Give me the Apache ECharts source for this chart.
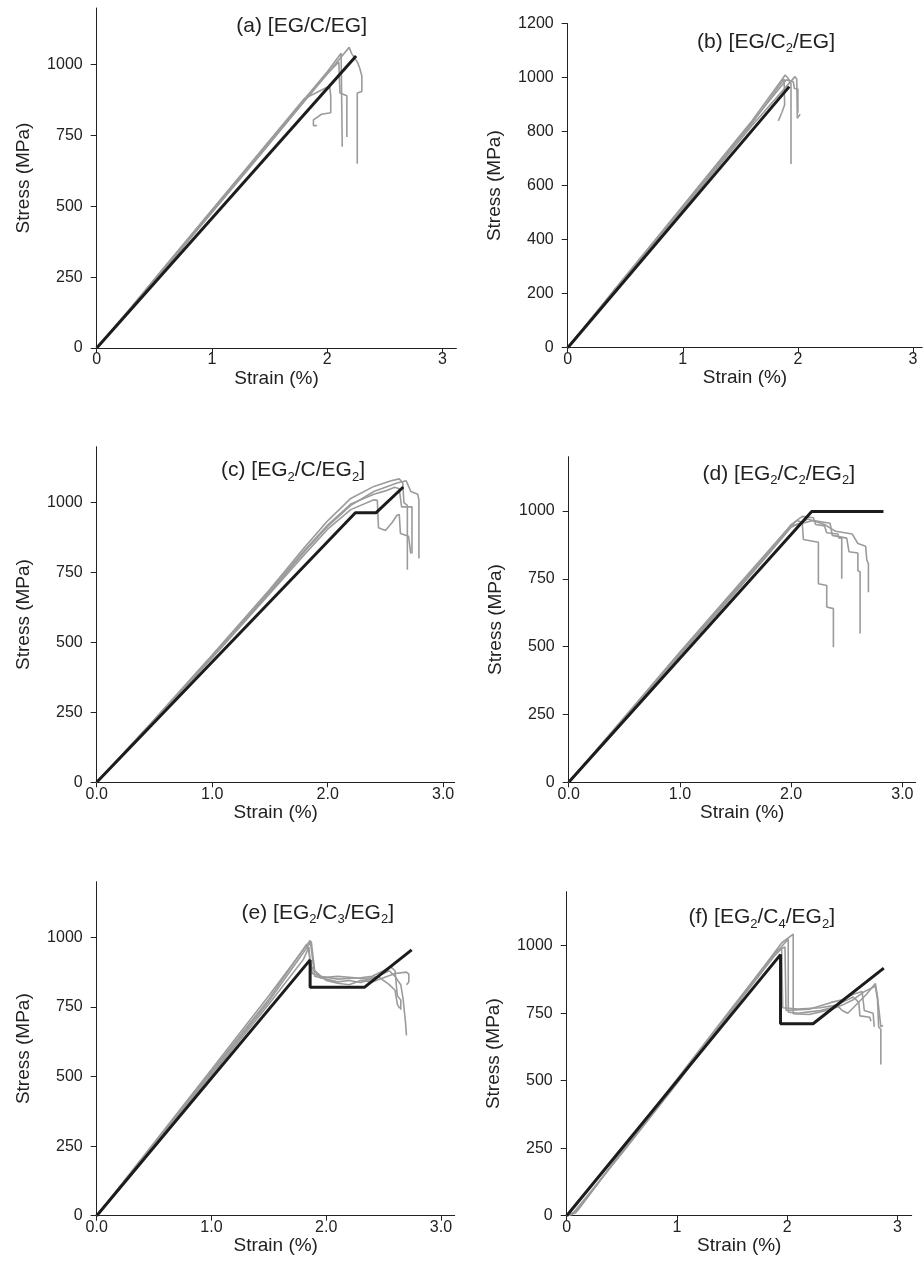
<!DOCTYPE html>
<html>
<head>
<meta charset="utf-8">
<script src="https://cdn.jsdelivr.net/npm/echarts@6/dist/echarts.min.js"></script>
<style>
html,body{margin:0;padding:0;background:#fff;}
#c{width:923px;height:1278px;}
</style>
</head>
<body>
<div id="c"></div>
<script>
// ---------- Data (strain %, stress MPa) ----------
// Panel (a) [EG/C/EG]
const aBlack = [[0,0],[2.25,1031]];
const aGrey1 = [[0,0],[0.3,140],[0.6,285],[1.0,478],[1.4,672],[1.8,870],[2.0,968],[2.19,1061],[2.21,1040],[2.26,1010],[2.28,990],[2.30,960],[2.30,905],[2.26,900],[2.26,650]];
const aGrey2 = [[0,0],[0.3,142],[0.6,290],[1.0,485],[1.4,680],[1.8,878],[2.0,975],[2.12,1040],[2.13,1035],[2.13,710]];
const aGrey3 = [[0,0],[0.3,138],[0.6,283],[1.0,480],[1.4,676],[1.8,872],[2.0,968],[2.10,1010],[2.11,900],[2.17,890],[2.17,745]];
const aGrey4 = [[0,0],[0.3,145],[0.6,292],[1.0,488],[1.4,684],[1.8,880],[2.02,925],[2.03,890],[2.03,830],[1.95,825],[1.88,805],[1.88,785],[1.91,785]];

// Panel (b) [EG/C2/EG]
const bBlack = [[0,0],[1.925,967]];
const bGrey1 = [[0,0],[0.4,212],[0.8,420],[1.2,630],[1.6,840],[1.89,1010],[1.92,995],[1.94,979],[1.94,680]];
const bGrey2 = [[0,0],[0.4,208],[0.8,415],[1.2,622],[1.6,830],[1.88,995],[1.885,900],[1.86,870],[1.83,840]];
const bGrey3 = [[0,0],[0.4,205],[0.8,410],[1.2,615],[1.6,822],[1.975,1004],[1.99,995],[1.995,850],[2.02,865]];
const bGrey4 = [[0,0],[0.4,210],[0.8,418],[1.2,626],[1.6,835],[1.9,992],[1.96,985],[1.97,960],[2.0,958],[2.0,870]];

// Panel (c) [EG2/C/EG2]
const cBlack = [[0,0],[2.24,964],[2.42,964],[2.655,1056]];
const cGrey1 = [[0,0],[0.5,225],[1.0,455],[1.5,690],[1.8,840],[2.0,935],[2.2,1015],[2.4,1058],[2.55,1078],[2.62,1085],[2.65,1070],[2.66,1000],[2.69,990],[2.69,760]];
const cGrey2 = [[0,0],[0.5,222],[1.0,450],[1.5,680],[1.8,825],[2.0,915],[2.2,990],[2.4,1040],[2.6,1070],[2.68,1078],[2.72,1040],[2.78,1030],[2.79,1010],[2.79,800]];
const cGrey3 = [[0,0],[0.5,220],[1.0,445],[1.5,675],[1.8,815],[2.0,905],[2.2,975],[2.4,1010],[2.43,1008],[2.44,910],[2.5,900],[2.56,930],[2.6,955],[2.62,958],[2.63,890],[2.7,880],[2.72,818]];
const cGrey4 = [[0,0],[0.5,223],[1.0,452],[1.5,685],[1.8,830],[2.0,920],[2.2,995],[2.4,1030],[2.5,1042],[2.58,1055],[2.62,1050],[2.64,985],[2.73,985],[2.73,818]];

// Panel (d) [EG2/C2/EG2]
const dBlack = [[0,0],[2.185,998],[2.83,998]];
const dGrey1 = [[0,0],[0.5,240],[1.0,480],[1.5,715],[1.8,855],[1.95,925],[2.05,965],[2.1,958],[2.11,895],[2.245,885],[2.245,732],[2.32,725],[2.32,646],[2.38,640],[2.38,498]];
const dGrey2 = [[0,0],[0.5,236],[1.0,472],[1.5,705],[1.8,845],[2.0,950],[2.1,980],[2.2,975],[2.22,950],[2.3,945],[2.32,920],[2.42,915],[2.43,900],[2.455,900],[2.455,750]];
const dGrey3 = [[0,0],[0.5,238],[1.0,476],[1.5,710],[1.8,850],[2.0,945],[2.2,965],[2.35,955],[2.37,910],[2.5,900],[2.52,850],[2.6,845],[2.6,780],[2.62,775],[2.62,548]];
const dGrey4 = [[0,0],[0.5,234],[1.0,468],[1.5,700],[1.8,842],[2.0,940],[2.15,970],[2.3,950],[2.4,925],[2.55,915],[2.6,880],[2.67,870],[2.68,820],[2.695,805],[2.695,700]];

// Panel (e) [EG2/C3/EG2]
const eBlack = [[0,0],[1.86,919],[1.86,821],[2.335,821],[2.745,955]];
const eGrey1 = [[0,0],[0.5,262],[1.0,525],[1.5,790],[1.86,989],[1.87,960],[1.9,860],[2.0,850],[2.1,840],[2.2,845],[2.3,838],[2.4,850],[2.5,870],[2.55,880],[2.6,860],[2.65,830],[2.67,780],[2.69,700],[2.7,648]];
const eGrey2 = [[0,0],[0.5,258],[1.0,518],[1.5,778],[1.83,975],[1.85,945],[1.88,870],[1.95,860],[2.1,850],[2.2,852],[2.3,855],[2.4,860],[2.5,880],[2.56,895],[2.6,880],[2.62,790],[2.65,775],[2.65,740]];
const eGrey3 = [[0,0],[0.5,255],[1.0,512],[1.5,770],[1.87,985],[1.88,950],[1.9,880],[2.0,845],[2.1,835],[2.2,830],[2.3,845],[2.4,840],[2.5,855],[2.6,870],[2.7,875],[2.72,868],[2.72,840],[2.7,830]];
const eGrey4 = [[0,0],[0.5,250],[1.0,505],[1.5,760],[1.8,920],[1.85,965],[1.86,900],[1.95,855],[2.1,860],[2.25,855],[2.35,850],[2.45,860],[2.55,830],[2.6,810],[2.62,760],[2.64,745]];

// Panel (f) [EG2/C4/EG2]
const fBlack = [[0,0],[1.94,967],[1.94,711],[2.235,711],[2.877,917]];
const fGrey1 = [[0,0],[0.05,5],[0.5,230],[1.0,490],[1.5,760],[1.9,975],[2.01,1024],[2.01,754],[2.1,750],[2.2,755],[2.3,760],[2.4,770],[2.5,790],[2.6,810],[2.65,790],[2.66,740],[2.75,735],[2.76,720]];
const fGrey2 = [[0,0],[0.1,20],[0.5,235],[1.0,495],[1.5,765],[1.95,1010],[2.055,1043],[2.055,748],[2.2,745],[2.3,755],[2.4,765],[2.5,780],[2.6,800],[2.7,830],[2.75,840],[2.8,850],[2.82,800],[2.83,700],[2.85,690],[2.85,560]];
const fGrey3 = [[0,0],[0.5,245],[1.0,505],[1.5,770],[1.9,980],[1.98,995],[1.99,760],[2.2,765],[2.4,790],[2.5,800],[2.6,820],[2.68,830],[2.7,760],[2.78,750],[2.79,700]];
const fGrey4 = [[0,0],[0.08,10],[0.5,240],[1.0,500],[1.5,760],[1.88,960],[1.95,990],[1.96,770],[2.1,765],[2.3,770],[2.45,780],[2.5,760],[2.55,750],[2.6,770],[2.72,820],[2.8,860],[2.82,810],[2.85,700],[2.87,705]];

// Tick values
const xTicks = [0,1,2,3];
const yTicksA = [0,250,500,750,1000];
const yTicksB = [0,200,400,600,800,1000,1200];

// Titles (odd entries are subscripts)
const titles = [
  ['(a) [EG/C/EG]'],
  ['(b) [EG/C', '2', '/EG]'],
  ['(c) [EG', '2', '/C/EG', '2', ']'],
  ['(d) [EG', '2', '/C', '2', '/EG', '2', ']'],
  ['(e) [EG', '2', '/C', '3', '/EG', '2', ']'],
  ['(f) [EG', '2', '/C', '4', '/EG', '2', ']']
];

// ---------- Layout ----------
const panels = [
  {left:96.7, top:8,     w:359.7, h:340,   xmax:3.12, dec:0, yt:yTicksA, black:aBlack, greys:[aGrey1,aGrey2,aGrey3,aGrey4], tr:367, tc:26},
  {left:567.7, top:23.7, w:354.5, h:324,   xmax:3.08, dec:0, yt:yTicksB, black:bBlack, greys:[bGrey1,bGrey2,bGrey3,bGrey4], tr:835, tc:42},
  {left:96.7, top:446.7, w:358,   h:335.6, xmax:3.1,  dec:1, yt:yTicksA, black:cBlack, greys:[cGrey1,cGrey2,cGrey3,cGrey4], tr:365, tc:470.5},
  {left:568.7, top:456.7,w:347,   h:325.6, xmax:3.12, dec:1, yt:yTicksA, black:dBlack, greys:[dGrey1,dGrey2,dGrey3,dGrey4], tr:855, tc:474},
  {left:96.7, top:881.7, w:358,   h:334,   xmax:3.12, dec:1, yt:yTicksA, black:eBlack, greys:[eGrey1,eGrey2,eGrey3,eGrey4], tr:394, tc:913},
  {left:566.7, top:891.7,w:345,   h:324,   xmax:3.13, dec:0, yt:yTicksA, black:fBlack, greys:[fGrey1,fGrey2,fGrey3,fGrey4], tr:835, tc:917.5}
];

const FONT = 'Liberation Sans, Arial, Helvetica, sans-serif';
const GREY = '#9b9b9b';
const BLACK = '#1c1c1c';
const TXT = '#222';

function richTitle(parts) {
  return parts.map((p, i) => (i % 2 === 1) ? '{s|' + p + '}' : '{m|' + p + '}').join('');
}

const grid = [], xAxis = [], yAxis = [], series = [], title = [];
panels.forEach((p, i) => {
  grid.push({left: p.left, top: p.top, width: p.w, height: p.h, containLabel: false});
  xAxis.push({
    type: 'value', gridIndex: i, min: 0, max: p.xmax,
    name: 'Strain (%)', nameLocation: 'middle', nameGap: 13,
    nameTextStyle: {fontFamily: FONT, fontSize: 19, color: TXT, verticalAlign: 'top'},
    axisLine: {show: true, lineStyle: {color: TXT, width: 1}},
    axisTick: {show: true, length: 5, inside: false, customValues: xTicks, lineStyle: {color: TXT}},
    axisLabel: {customValues: xTicks, margin: 4, fontFamily: FONT, fontSize: 16, color: TXT,
      formatter: v => p.dec ? Number(v).toFixed(1) : String(Math.round(v))},
    splitLine: {show: false}
  });
  yAxis.push({
    type: 'value', gridIndex: i, min: 0, max: 1200,
    name: 'Stress (MPa)', nameLocation: 'middle', nameGap: 63,
    nameTextStyle: {fontFamily: FONT, fontSize: 19, color: TXT},
    axisLine: {show: true, lineStyle: {color: TXT, width: 1}},
    axisTick: {show: true, length: 6, inside: false, customValues: p.yt, lineStyle: {color: TXT}},
    axisLabel: {customValues: p.yt, margin: 14, fontFamily: FONT, fontSize: 16, color: TXT,
      formatter: v => String(Math.round(v))},
    splitLine: {show: false}
  });
  p.greys.forEach(g => series.push({
    type: 'line', xAxisIndex: i, yAxisIndex: i, data: g, showSymbol: false, symbol: 'none',
    lineStyle: {color: GREY, width: 1.6}, animation: false, silent: true, z: 2
  }));
  series.push({
    type: 'line', xAxisIndex: i, yAxisIndex: i, data: p.black, showSymbol: false, symbol: 'none',
    lineStyle: {color: BLACK, width: 3}, animation: false, silent: true, z: 3
  });
  title.push({
    text: richTitle(titles[i]), left: p.tr, top: p.tc - 13, textAlign: 'right', padding: 0,
    textStyle: {
      fontWeight: 'normal',
      rich: {
        m: {fontFamily: FONT, fontSize: 21, fontWeight: 'normal', color: TXT, lineHeight: 26},
        s: {fontFamily: FONT, fontSize: 13, fontWeight: 'normal', color: TXT, lineHeight: 13, verticalAlign: 'bottom'}
      }
    }
  });
});

const chart = echarts.init(document.getElementById('c'), null, {renderer: 'canvas'});
chart.setOption({animation: false, backgroundColor: '#fff', title, grid, xAxis, yAxis, series});
</script>
</body>
</html>
